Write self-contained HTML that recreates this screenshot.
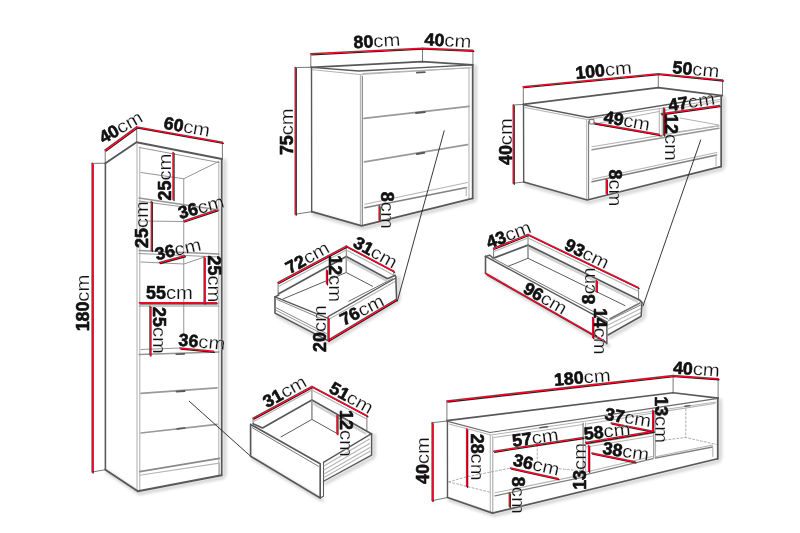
<!DOCTYPE html>
<html><head><meta charset="utf-8"><title>Dimensions</title>
<style>
html,body{margin:0;padding:0;background:#fff;}
body{width:800px;height:533px;overflow:hidden;}
svg{display:block;}
svg path{fill:none;stroke-linecap:round;stroke-linejoin:round;}
svg text{font-family:"Liberation Sans",sans-serif;fill:#111;stroke-linejoin:round;}
svg{will-change:transform;filter:blur(.45px);}
</style></head><body>
<svg width="800" height="533" viewBox="0 0 800 533">
<defs><filter id="soft" x="-5%" y="-5%" width="110%" height="110%"><feGaussianBlur stdDeviation="1.6"/></filter></defs>
<rect width="800" height="533" fill="#fff"/>
<g filter="url(#soft)"><path d="M107.2 471.9 L139.6 493.5 L223.3 477.5" stroke="#cfcfcf" stroke-width="3.2"/><path d="M224.7 160 L224.7 475" stroke="#cfcfcf" stroke-width="3.2"/><path d="M313.5 213.9 L363.5 228.1 L474.5 200.5" stroke="#cfcfcf" stroke-width="3.2"/><path d="M475.4 66 L475.4 198" stroke="#cfcfcf" stroke-width="3.2"/><path d="M525.5 184.2 L589 202.2 L722.6 168.8" stroke="#cfcfcf" stroke-width="3.2"/><path d="M723.7 97 L723.7 166" stroke="#cfcfcf" stroke-width="3.2"/><path d="M449.3 499.7 L494.3 515.3 L719.3 460.95" stroke="#cfcfcf" stroke-width="3.2"/><path d="M720.2 400 L720.2 458" stroke="#cfcfcf" stroke-width="3.2"/><path d="M252.4 458.45 L322 500.2" stroke="#cfcfcf" stroke-width="3.2"/><path d="M325.3 483.45 L373.4 457.4" stroke="#cfcfcf" stroke-width="3.2"/><path d="M374 435 L374 455" stroke="#cfcfcf" stroke-width="3.2"/><path d="M276.8 315.3 L329.9 342.8 L398.05 301.6" stroke="#cfcfcf" stroke-width="3.2"/><path d="M398.7 277 L399 299" stroke="#cfcfcf" stroke-width="3.2"/><path d="M487.3 275.45 L608.7 345.9" stroke="#cfcfcf" stroke-width="3.2"/><path d="M609.8 337.2 L643 318.45" stroke="#cfcfcf" stroke-width="3.2"/><path d="M644.2 303 L644.2 316" stroke="#cfcfcf" stroke-width="3.2"/></g>
<path d="M105.2 150 L105.2 163" stroke="#555" stroke-width="0.8" />
<path d="M136.7 127 L136.7 142" stroke="#555" stroke-width="0.8" />
<path d="M222.4 142.3 L222.4 158.5" stroke="#555" stroke-width="0.8" />
<path d="M92.2 163.4 L105.4 163.2" stroke="#555" stroke-width="0.8" />
<path d="M92.2 472 L105.4 469.7" stroke="#555" stroke-width="0.8" />
<path d="M137 144 L137 490" stroke="#b4b4b4" stroke-width="1.1" />
<path d="M139.8 147 L139.8 489.5" stroke="#b4b4b4" stroke-width="1.1" />
<path d="M218.8 162 L218.8 474" stroke="#b4b4b4" stroke-width="1.1" />
<path d="M139.5 147.5 L219 162.5" stroke="#969696" stroke-width="1" />
<path d="M141 172.5 L183.75 178.75 L218.75 161.5" stroke="#969696" stroke-width="1" />
<path d="M183.75 178.75 L183.75 333" stroke="#969696" stroke-width="1" />
<path d="M139 198 L219 210" stroke="#969696" stroke-width="1.3" />
<path d="M139 201 L183.75 207" stroke="#969696" stroke-width="1" />
<path d="M141 221 L183.75 221.5 L218.75 209.5" stroke="#969696" stroke-width="1" />
<path d="M139 250.5 L219 254" stroke="#969696" stroke-width="1.3" />
<path d="M139 253.5 L219 257" stroke="#969696" stroke-width="1" />
<path d="M141 262 L183.75 264 L203 257.5" stroke="#969696" stroke-width="1" />
<path d="M139 303 L219 303" stroke="#969696" stroke-width="1" />
<path d="M139 306 L219 306" stroke="#969696" stroke-width="1" />
<path d="M141 349.5 L180 348" stroke="#969696" stroke-width="1" />
<path d="M139 354.5 L219 352" stroke="#969696" stroke-width="1.3" />
<path d="M176.2 354.2 L184.4 353.9" stroke="#585858" stroke-width="1.584" />
<path d="M141 393.3 L217 387.8" stroke="#9a9a9a" stroke-width="1.7" />
<path d="M176.5 391.6 L184.6 391" stroke="#585858" stroke-width="1.76" />
<path d="M141 433 L217 424.3" stroke="#9a9a9a" stroke-width="1.7" />
<path d="M177.2 428.9 L184.7 428" stroke="#585858" stroke-width="1.76" />
<path d="M139.7 471.6 L219.4 458.4" stroke="#8a8a8a" stroke-width="1.6" />
<path d="M139.7 475.3 L219.4 463.1" stroke="#b4b4b4" stroke-width="1.1" />
<path d="M219.4 463 L219.4 475.3" stroke="#b4b4b4" stroke-width="1.1" />
<path d="M105.4 163.2 L136.5 142.3 L222 159" stroke="#585858" stroke-width="1.936" />
<path d="M105.4 163.2 L105.4 469.7" stroke="#585858" stroke-width="1.584" />
<path d="M105.4 469.7 L137.8 491.3 L221.5 475.3" stroke="#585858" stroke-width="1.936" />
<path d="M221.7 159 L221.7 475.3" stroke="#585858" stroke-width="1.76" />
<path d="M106.1 151 L137.6 128" stroke="#222" stroke-width="1.3" />
<path d="M105.2 150 L136.7 127" stroke="#e3102c" stroke-width="1.6" />
<path d="M137.6 128 L223.3 143.3" stroke="#222" stroke-width="1.3" />
<path d="M136.7 127 L222.4 142.3" stroke="#e3102c" stroke-width="1.6" />
<path d="M93.1 164.4 L93.1 473" stroke="#222" stroke-width="1.3" />
<path d="M92.2 163.4 L92.2 472" stroke="#e3102c" stroke-width="1.6" />
<path d="M174 153.5 L174 200.5" stroke="#222" stroke-width="1.3" />
<path d="M173.1 152.5 L173.1 199.5" stroke="#e3102c" stroke-width="1.6" />
<path d="M152.3 202.5 L152.3 251.5" stroke="#222" stroke-width="1.3" />
<path d="M151.4 201.5 L151.4 250.5" stroke="#e3102c" stroke-width="1.6" />
<path d="M184.65 222 L217.9 210.8" stroke="#222" stroke-width="1.3" />
<path d="M183.75 221 L217 209.8" stroke="#e3102c" stroke-width="1.6" />
<path d="M160.4 263.5 L185.4 256.75" stroke="#222" stroke-width="1.3" />
<path d="M159.5 262.5 L184.5 255.75" stroke="#e3102c" stroke-width="1.6" />
<path d="M205.1 258 L205.1 304" stroke="#222" stroke-width="1.3" />
<path d="M204.2 257 L204.2 303" stroke="#e3102c" stroke-width="1.6" />
<path d="M140.3 303.8 L217.2 303.8" stroke="#222" stroke-width="1.3" />
<path d="M139.4 302.8 L216.3 302.8" stroke="#e3102c" stroke-width="1.6" />
<path d="M150.9 307.3 L150.9 356" stroke="#222" stroke-width="1.3" />
<path d="M150 306.3 L150 355" stroke="#e3102c" stroke-width="1.6" />
<path d="M180.9 349 L214.4 352.3" stroke="#222" stroke-width="1.3" />
<path d="M180 348 L213.5 351.3" stroke="#e3102c" stroke-width="1.6" />
<g transform="translate(120.6 127) rotate(-30)"><text x="-23.40" y="6.25" font-size="17.5" font-weight="700" stroke="#111" stroke-width="0.6" textLength="19.80" lengthAdjust="spacingAndGlyphs">40</text><text x="-3.60" y="6.25" font-size="18.025" stroke="#fff" stroke-width="0.2" textLength="27.00" lengthAdjust="spacingAndGlyphs">cm</text></g>
<g transform="translate(187 126.5) rotate(10)"><text x="-23.40" y="6.25" font-size="17.5" font-weight="700" stroke="#111" stroke-width="0.6" textLength="19.80" lengthAdjust="spacingAndGlyphs">60</text><text x="-3.60" y="6.25" font-size="18.025" stroke="#fff" stroke-width="0.2" textLength="27.00" lengthAdjust="spacingAndGlyphs">cm</text></g>
<g transform="translate(82.5 303) rotate(-90)"><text x="-28.35" y="6.25" font-size="17.5" font-weight="700" stroke="#111" stroke-width="0.6" textLength="29.70" lengthAdjust="spacingAndGlyphs">180</text><text x="1.35" y="6.25" font-size="18.025" stroke="#fff" stroke-width="0.2" textLength="27.00" lengthAdjust="spacingAndGlyphs">cm</text></g>
<g transform="translate(164.5 177) rotate(-90)"><text x="-23.40" y="6.25" font-size="17.5" font-weight="700" stroke="#111" stroke-width="0.6" textLength="19.80" lengthAdjust="spacingAndGlyphs">25</text><text x="-3.60" y="6.25" font-size="18.025" stroke="#fff" stroke-width="0.2" textLength="27.00" lengthAdjust="spacingAndGlyphs">cm</text></g>
<g transform="translate(142.2 224.5) rotate(-90)"><text x="-23.40" y="6.25" font-size="17.5" font-weight="700" stroke="#111" stroke-width="0.6" textLength="19.80" lengthAdjust="spacingAndGlyphs">25</text><text x="-3.60" y="6.25" font-size="18.025" stroke="#fff" stroke-width="0.2" textLength="27.00" lengthAdjust="spacingAndGlyphs">cm</text></g>
<g transform="translate(201 207) rotate(-15)"><text x="-23.40" y="6.25" font-size="17.5" font-weight="700" stroke="#111" stroke-width="0.6" textLength="19.80" lengthAdjust="spacingAndGlyphs">36</text><text x="-3.60" y="6.25" font-size="18.025" stroke="#fff" stroke-width="0.2" textLength="27.00" lengthAdjust="spacingAndGlyphs">cm</text></g>
<g transform="translate(178 249) rotate(-12.5)"><text x="-23.40" y="6.25" font-size="17.5" font-weight="700" stroke="#111" stroke-width="0.6" textLength="19.80" lengthAdjust="spacingAndGlyphs">36</text><text x="-3.60" y="6.25" font-size="18.025" stroke="#fff" stroke-width="0.2" textLength="27.00" lengthAdjust="spacingAndGlyphs">cm</text></g>
<g transform="translate(214 279) rotate(90)"><text x="-23.40" y="6.25" font-size="17.5" font-weight="700" stroke="#111" stroke-width="0.6" textLength="19.80" lengthAdjust="spacingAndGlyphs">25</text><text x="-3.60" y="6.25" font-size="18.025" stroke="#fff" stroke-width="0.2" textLength="27.00" lengthAdjust="spacingAndGlyphs">cm</text></g>
<g transform="translate(169.5 293.2) rotate(0)"><text x="-23.40" y="6.25" font-size="17.5" font-weight="700" stroke="#111" stroke-width="0.6" textLength="19.80" lengthAdjust="spacingAndGlyphs">55</text><text x="-3.60" y="6.25" font-size="18.025" stroke="#fff" stroke-width="0.2" textLength="27.00" lengthAdjust="spacingAndGlyphs">cm</text></g>
<g transform="translate(159.3 330.5) rotate(90)"><text x="-23.40" y="6.25" font-size="17.5" font-weight="700" stroke="#111" stroke-width="0.6" textLength="19.80" lengthAdjust="spacingAndGlyphs">25</text><text x="-3.60" y="6.25" font-size="18.025" stroke="#fff" stroke-width="0.2" textLength="27.00" lengthAdjust="spacingAndGlyphs">cm</text></g>
<g transform="translate(202 341.5) rotate(5.5)"><text x="-23.40" y="6.25" font-size="17.5" font-weight="700" stroke="#111" stroke-width="0.6" textLength="19.80" lengthAdjust="spacingAndGlyphs">36</text><text x="-3.60" y="6.25" font-size="18.025" stroke="#fff" stroke-width="0.2" textLength="27.00" lengthAdjust="spacingAndGlyphs">cm</text></g>
<path d="M189.25 401.25 L250.6 456.25" stroke="#222" stroke-width="0.9" />
<path d="M253.1 418.1 L253.1 423.5" stroke="#555" stroke-width="0.8" />
<path d="M311.9 386.5 L311.9 419.4" stroke="#555" stroke-width="0.8" />
<path d="M366.9 415.6 L366.9 430.5" stroke="#555" stroke-width="0.8" />
<path d="M253.6 421.5 L311.9 390 L366.5 419" stroke="#b4b4b4" stroke-width="1.1" />
<path d="M313 403.5 L365.5 433.5" stroke="#d0d0d0" stroke-width="2.2" />
<path d="M253.1 423.75 L262.5 428 L311.9 400 L366.9 431.25 L371.6 434" stroke="#585858" stroke-width="1.672" />
<path d="M281 436.9 L311.9 419.4 L337.5 433.75" stroke="#555" stroke-width="0.968" />
<path d="M311.9 419.4 L311.9 400" stroke="#969696" stroke-width="1" />
<path d="M250.6 424.4 L250.6 456.25 L320.2 498 L320.2 463.7 L250.6 424.4" stroke="#585858" stroke-width="1.672" />
<path d="M252.5 427.8 L318.5 466.3" stroke="#777" stroke-width="1" />
<path d="M323.5 462.3 L323.5 496.2 L320.2 498" stroke="#585858" stroke-width="1.056" />
<path d="M323.5 462.3 L371.6 433.6 L371.6 455.2 L323.5 481.25" stroke="#585858" stroke-width="1.408" />
<path d="M324 466 L369.5 439" stroke="#b4b4b4" stroke-width="1.1" />
<path d="M324 470 L369.5 443.5" stroke="#b4b4b4" stroke-width="1.1" />
<path d="M324 474 L370 447.5" stroke="#b4b4b4" stroke-width="1.1" />
<path d="M324 477.5 L370 451.2" stroke="#b4b4b4" stroke-width="1.1" />
<path d="M254 419.1 L312.8 387.5" stroke="#222" stroke-width="1.3" />
<path d="M253.1 418.1 L311.9 386.5" stroke="#e3102c" stroke-width="1.6" />
<path d="M312.8 387.5 L367.9 416.8" stroke="#222" stroke-width="1.3" />
<path d="M311.9 386.5 L367 415.8" stroke="#e3102c" stroke-width="1.6" />
<path d="M337.9 416.5 L337.9 434.75" stroke="#222" stroke-width="1.3" />
<path d="M337 415.5 L337 433.75" stroke="#e3102c" stroke-width="1.6" />
<g transform="translate(284.5 391.4) rotate(-29)"><text x="-23.40" y="6.25" font-size="17.5" font-weight="700" stroke="#111" stroke-width="0.6" textLength="19.80" lengthAdjust="spacingAndGlyphs">31</text><text x="-3.60" y="6.25" font-size="18.025" stroke="#fff" stroke-width="0.2" textLength="27.00" lengthAdjust="spacingAndGlyphs">cm</text></g>
<g transform="translate(351.5 397.5) rotate(29)"><text x="-23.40" y="6.25" font-size="17.5" font-weight="700" stroke="#111" stroke-width="0.6" textLength="19.80" lengthAdjust="spacingAndGlyphs">51</text><text x="-3.60" y="6.25" font-size="18.025" stroke="#fff" stroke-width="0.2" textLength="27.00" lengthAdjust="spacingAndGlyphs">cm</text></g>
<g transform="translate(346 433.5) rotate(90)"><text x="-23.40" y="6.25" font-size="17.5" font-weight="700" stroke="#111" stroke-width="0.6" textLength="19.80" lengthAdjust="spacingAndGlyphs">12</text><text x="-3.60" y="6.25" font-size="18.025" stroke="#fff" stroke-width="0.2" textLength="27.00" lengthAdjust="spacingAndGlyphs">cm</text></g>
<path d="M310.8 54 L310.8 67" stroke="#555" stroke-width="0.8" />
<path d="M422.5 48.3 L422.5 61.7" stroke="#555" stroke-width="0.8" />
<path d="M472.9 50.5 L472.9 65" stroke="#555" stroke-width="0.8" />
<path d="M295.3 67.5 L311.3 67.3" stroke="#555" stroke-width="0.8" />
<path d="M295.3 214.2 L311.7 211.7" stroke="#555" stroke-width="0.8" />
<path d="M312.5 69.8 L360 74.5 L471 67.8" stroke="#b4b4b4" stroke-width="1.1" />
<path d="M360.4 74.5 L360.4 225" stroke="#b4b4b4" stroke-width="1.1" />
<path d="M469 68.5 L469 198.5" stroke="#b4b4b4" stroke-width="1.1" />
<path d="M362.3 76 L362.3 225.5" stroke="#777" stroke-width="1.056" />
<path d="M363 73.6 L469 67.7" stroke="#b4b4b4" stroke-width="1.1" />
<path d="M364 118.4 L469 106.4" stroke="#9a9a9a" stroke-width="1.7" />
<path d="M364.5 161.8 L467.5 144.6" stroke="#9a9a9a" stroke-width="1.7" />
<path d="M364.8 204.3 L467.5 182.5" stroke="#b4b4b4" stroke-width="1.1" />
<path d="M364.8 207.7 L466.7 187.6" stroke="#808080" stroke-width="1.5" />
<path d="M466.2 187.6 L466.2 195.5" stroke="#b4b4b4" stroke-width="1.1" />
<path d="M416.9 72.6 L424.8 72.2" stroke="#585858" stroke-width="1.76" />
<path d="M416 113 L424.8 112" stroke="#585858" stroke-width="1.936" />
<path d="M416.8 154 L424.2 152.8" stroke="#585858" stroke-width="1.936" />
<path d="M311.3 67.3 L422.5 61.7 L472.7 64.8" stroke="#585858" stroke-width="1.76" />
<path d="M311.3 67.3 L359 71 L472.7 64.8" stroke="#585858" stroke-width="1.32" />
<path d="M311.5 67.3 L311.7 211.7" stroke="#585858" stroke-width="1.408" />
<path d="M311.7 211.7 L361.7 225.9 L472.7 198.3" stroke="#585858" stroke-width="1.76" />
<path d="M472.7 64.8 L472.7 198.3" stroke="#585858" stroke-width="1.76" />
<path d="M311.7 54.8 L423.4 49.2" stroke="#222" stroke-width="1.3" />
<path d="M310.8 53.8 L422.5 48.2" stroke="#e3102c" stroke-width="1.6" />
<path d="M423.4 49.2 L473.8 51.4" stroke="#222" stroke-width="1.3" />
<path d="M422.5 48.2 L472.9 50.4" stroke="#e3102c" stroke-width="1.6" />
<path d="M296.2 68.5 L296.2 215.2" stroke="#222" stroke-width="1.3" />
<path d="M295.3 67.5 L295.3 214.2" stroke="#e3102c" stroke-width="1.6" />
<path d="M380.1 206.8 L380.1 221.3" stroke="#222" stroke-width="1.3" />
<path d="M379.2 205.8 L379.2 220.3" stroke="#e3102c" stroke-width="1.6" />
<g transform="translate(376.8 40.7) rotate(-3)"><text x="-23.40" y="6.25" font-size="17.5" font-weight="700" stroke="#111" stroke-width="0.6" textLength="19.80" lengthAdjust="spacingAndGlyphs">80</text><text x="-3.60" y="6.25" font-size="18.025" stroke="#fff" stroke-width="0.2" textLength="27.00" lengthAdjust="spacingAndGlyphs">cm</text></g>
<g transform="translate(448 40.2) rotate(3)"><text x="-23.40" y="6.25" font-size="17.5" font-weight="700" stroke="#111" stroke-width="0.6" textLength="19.80" lengthAdjust="spacingAndGlyphs">40</text><text x="-3.60" y="6.25" font-size="18.025" stroke="#fff" stroke-width="0.2" textLength="27.00" lengthAdjust="spacingAndGlyphs">cm</text></g>
<g transform="translate(287.2 131.7) rotate(-90)"><text x="-23.40" y="6.25" font-size="17.5" font-weight="700" stroke="#111" stroke-width="0.6" textLength="19.80" lengthAdjust="spacingAndGlyphs">75</text><text x="-3.60" y="6.25" font-size="18.025" stroke="#fff" stroke-width="0.2" textLength="27.00" lengthAdjust="spacingAndGlyphs">cm</text></g>
<g transform="translate(387.6 210.3) rotate(90)"><text x="-18.45" y="6.25" font-size="17.5" font-weight="700" stroke="#111" stroke-width="0.6" textLength="9.90" lengthAdjust="spacingAndGlyphs">8</text><text x="-8.55" y="6.25" font-size="18.025" stroke="#fff" stroke-width="0.2" textLength="27.00" lengthAdjust="spacingAndGlyphs">cm</text></g>
<path d="M444.2 130.8 L397.4 301" stroke="#222" stroke-width="0.9" />
<path d="M278.1 282.5 L278.1 295" stroke="#555" stroke-width="0.8" />
<path d="M346.25 246 L346.25 272.5" stroke="#555" stroke-width="0.8" />
<path d="M393.75 271.25 L393.75 276.25" stroke="#555" stroke-width="0.8" />
<path d="M278.6 286.5 L346.25 250 L393.5 275" stroke="#b4b4b4" stroke-width="1.1" />
<path d="M347 259.5 L386 280.5" stroke="#d0d0d0" stroke-width="2.2" />
<path d="M278.75 293.75 L346.25 256.5 L387.5 278.75 L395.3 275.3" stroke="#585858" stroke-width="1.672" />
<path d="M283 299 L346.25 272.5 L372.5 286.25" stroke="#555" stroke-width="0.968" />
<path d="M346.25 272.5 L346.25 256.5" stroke="#969696" stroke-width="1" />
<path d="M275 296.9 L275 313.1 L328.1 340.6" stroke="#585858" stroke-width="1.584" />
<path d="M275 296.9 L278.75 295" stroke="#585858" stroke-width="1.408" />
<path d="M275 296.9 L328.1 318.3" stroke="#585858" stroke-width="1.408" />
<path d="M277 299.5 L326 320.5" stroke="#888" stroke-width="1" />
<path d="M276.5 308 L326.5 333.5" stroke="#888" stroke-width="1" />
<path d="M276.5 310.5 L326.5 336" stroke="#999" stroke-width="1" />
<path d="M328.1 316.6 L395.3 278.3" stroke="#585858" stroke-width="1.232" />
<path d="M329 319.3 L395 281.5" stroke="#b4b4b4" stroke-width="1.1" />
<path d="M348.75 301.25 L392.5 278.75" stroke="#666" stroke-width="0.968" />
<path d="M395.8 276.5 L396.6 299.4" stroke="#585858" stroke-width="1.584" />
<path d="M279 283.5 L347.15 247.1" stroke="#222" stroke-width="1.3" />
<path d="M278.1 282.5 L346.25 246.1" stroke="#e3102c" stroke-width="1.6" />
<path d="M347.15 247.1 L394.65 272.25" stroke="#222" stroke-width="1.3" />
<path d="M346.25 246.1 L393.75 271.25" stroke="#e3102c" stroke-width="1.6" />
<path d="M329 341.2 L397.15 300.4" stroke="#222" stroke-width="1.3" />
<path d="M328.1 340.2 L396.25 299.4" stroke="#e3102c" stroke-width="1.6" />
<path d="M329 318.8 L329 341.2" stroke="#222" stroke-width="1.3" />
<path d="M328.1 317.8 L328.1 340.2" stroke="#e3102c" stroke-width="1.6" />
<path d="M327.5 271 L327.5 284.75" stroke="#222" stroke-width="1.3" />
<path d="M326.6 270 L326.6 283.75" stroke="#e3102c" stroke-width="1.6" />
<g transform="translate(307.3 257.4) rotate(-29)"><text x="-23.40" y="6.25" font-size="17.5" font-weight="700" stroke="#111" stroke-width="0.6" textLength="19.80" lengthAdjust="spacingAndGlyphs">72</text><text x="-3.60" y="6.25" font-size="18.025" stroke="#fff" stroke-width="0.2" textLength="27.00" lengthAdjust="spacingAndGlyphs">cm</text></g>
<g transform="translate(375.5 252) rotate(29)"><text x="-23.40" y="6.25" font-size="17.5" font-weight="700" stroke="#111" stroke-width="0.6" textLength="19.80" lengthAdjust="spacingAndGlyphs">31</text><text x="-3.60" y="6.25" font-size="18.025" stroke="#fff" stroke-width="0.2" textLength="27.00" lengthAdjust="spacingAndGlyphs">cm</text></g>
<g transform="translate(361.8 309.8) rotate(-27)"><text x="-23.40" y="6.25" font-size="17.5" font-weight="700" stroke="#111" stroke-width="0.6" textLength="19.80" lengthAdjust="spacingAndGlyphs">76</text><text x="-3.60" y="6.25" font-size="18.025" stroke="#fff" stroke-width="0.2" textLength="27.00" lengthAdjust="spacingAndGlyphs">cm</text></g>
<g transform="translate(319.5 328.5) rotate(-90)"><text x="-23.40" y="6.25" font-size="17.5" font-weight="700" stroke="#111" stroke-width="0.6" textLength="19.80" lengthAdjust="spacingAndGlyphs">20</text><text x="-3.60" y="6.25" font-size="18.025" stroke="#fff" stroke-width="0.2" textLength="27.00" lengthAdjust="spacingAndGlyphs">cm</text></g>
<g transform="translate(335.5 278.7) rotate(90)"><text x="-23.40" y="6.25" font-size="17.5" font-weight="700" stroke="#111" stroke-width="0.6" textLength="19.80" lengthAdjust="spacingAndGlyphs">12</text><text x="-3.60" y="6.25" font-size="18.025" stroke="#fff" stroke-width="0.2" textLength="27.00" lengthAdjust="spacingAndGlyphs">cm</text></g>
<path d="M523.3 86.7 L523.3 104" stroke="#555" stroke-width="0.8" />
<path d="M658.3 73.7 L658.3 87.5" stroke="#555" stroke-width="0.8" />
<path d="M722.5 80 L722.5 95.5" stroke="#555" stroke-width="0.8" />
<path d="M513.3 105 L523.3 104.4" stroke="#555" stroke-width="0.8" />
<path d="M513.3 183.3 L523.7 182" stroke="#555" stroke-width="0.8" />
<path d="M525 107.5 L587 119.5 L720 99.5" stroke="#b4b4b4" stroke-width="1.1" />
<path d="M586.7 119.5 L586.7 199" stroke="#b4b4b4" stroke-width="1.1" />
<path d="M588.6 121 L588.6 199.5" stroke="#777" stroke-width="1.056" />
<path d="M589.6 119.6 L594 119.6 L594 124 L589.6 124 L589.6 119.6" stroke="#666" stroke-width="0.9" fill="#9c9c9c"/>
<path d="M592 124.5 L659 111.5" stroke="#b4b4b4" stroke-width="1.1" />
<path d="M664 110.5 L719.5 101.5" stroke="#b4b4b4" stroke-width="1.1" />
<path d="M592 146.8 L719 125.6" stroke="#b4b4b4" stroke-width="1.1" />
<path d="M592 149.8 L719 128.2" stroke="#969696" stroke-width="1.4" />
<path d="M594.2 123.8 L658.5 135" stroke="#969696" stroke-width="1" />
<path d="M680 118 L718.75 125" stroke="#b4b4b4" stroke-width="1.1" />
<path d="M676 132 L719 126" stroke="#b4b4b4" stroke-width="1.1" />
<path d="M659.3 108.5 L659.3 135.5" stroke="#b4b4b4" stroke-width="1.1" />
<path d="M662.2 108.5 L662.2 135.5" stroke="#b4b4b4" stroke-width="1.1" />
<path d="M659.5 136 L662 136" stroke="#777" stroke-width="1.408" />
<path d="M592 179.2 L716.7 152.5" stroke="#b4b4b4" stroke-width="1.1" />
<path d="M592 181.8 L716.7 155" stroke="#808080" stroke-width="1.4" />
<path d="M716 155 L716 165.5" stroke="#b4b4b4" stroke-width="1.1" />
<path d="M523.3 104.3 L658.3 87.6 L722.3 95.6" stroke="#585858" stroke-width="1.76" />
<path d="M523.3 104.8 L588.3 117.5 L722.3 95.6" stroke="#585858" stroke-width="1.32" />
<path d="M523.5 104.3 L523.7 182" stroke="#585858" stroke-width="1.408" />
<path d="M523.7 182 L587.2 200 L720.8 166.6" stroke="#585858" stroke-width="1.76" />
<path d="M721.2 95.6 L721.2 166.6" stroke="#585858" stroke-width="1.76" />
<path d="M524.2 87.7 L659.2 74.7" stroke="#222" stroke-width="1.3" />
<path d="M523.3 86.7 L658.3 73.7" stroke="#e3102c" stroke-width="1.6" />
<path d="M659.2 74.7 L723.4 81" stroke="#222" stroke-width="1.3" />
<path d="M658.3 73.7 L722.5 80" stroke="#e3102c" stroke-width="1.6" />
<path d="M514.2 106 L514.2 184.3" stroke="#222" stroke-width="1.3" />
<path d="M513.3 105 L513.3 183.3" stroke="#e3102c" stroke-width="1.6" />
<path d="M595.1 124 L659.65 135.4" stroke="#222" stroke-width="1.3" />
<path d="M594.2 123 L658.75 134.4" stroke="#e3102c" stroke-width="1.6" />
<path d="M662.15 114.75 L720.3 106.6" stroke="#222" stroke-width="1.3" />
<path d="M661.25 113.75 L719.4 105.6" stroke="#e3102c" stroke-width="1.6" />
<path d="M664.65 109 L664.65 136" stroke="#222" stroke-width="1.3" />
<path d="M663.75 108 L663.75 135" stroke="#e3102c" stroke-width="1.6" />
<path d="M607.2 180.2 L607.2 194.3" stroke="#222" stroke-width="1.3" />
<path d="M606.3 179.2 L606.3 193.3" stroke="#e3102c" stroke-width="1.6" />
<g transform="translate(603.5 70) rotate(-5.5)"><text x="-28.35" y="6.25" font-size="17.5" font-weight="700" stroke="#111" stroke-width="0.6" textLength="29.70" lengthAdjust="spacingAndGlyphs">100</text><text x="1.35" y="6.25" font-size="18.025" stroke="#fff" stroke-width="0.2" textLength="27.00" lengthAdjust="spacingAndGlyphs">cm</text></g>
<g transform="translate(696 69) rotate(5.5)"><text x="-23.40" y="6.25" font-size="17.5" font-weight="700" stroke="#111" stroke-width="0.6" textLength="19.80" lengthAdjust="spacingAndGlyphs">50</text><text x="-3.60" y="6.25" font-size="18.025" stroke="#fff" stroke-width="0.2" textLength="27.00" lengthAdjust="spacingAndGlyphs">cm</text></g>
<g transform="translate(505.3 141.6) rotate(-90)"><text x="-23.40" y="6.25" font-size="17.5" font-weight="700" stroke="#111" stroke-width="0.6" textLength="19.80" lengthAdjust="spacingAndGlyphs">40</text><text x="-3.60" y="6.25" font-size="18.025" stroke="#fff" stroke-width="0.2" textLength="27.00" lengthAdjust="spacingAndGlyphs">cm</text></g>
<g transform="translate(627 120.5) rotate(10)"><text x="-23.40" y="6.25" font-size="17.5" font-weight="700" stroke="#111" stroke-width="0.6" textLength="19.80" lengthAdjust="spacingAndGlyphs">49</text><text x="-3.60" y="6.25" font-size="18.025" stroke="#fff" stroke-width="0.2" textLength="27.00" lengthAdjust="spacingAndGlyphs">cm</text></g>
<g transform="translate(691.5 101.5) rotate(-8.5)"><text x="-23.40" y="6.25" font-size="17.5" font-weight="700" stroke="#111" stroke-width="0.6" textLength="19.80" lengthAdjust="spacingAndGlyphs">47</text><text x="-3.60" y="6.25" font-size="18.025" stroke="#fff" stroke-width="0.2" textLength="27.00" lengthAdjust="spacingAndGlyphs">cm</text></g>
<g transform="translate(671.5 137.5) rotate(90)"><text x="-23.40" y="6.25" font-size="17.5" font-weight="700" stroke="#111" stroke-width="0.6" textLength="19.80" lengthAdjust="spacingAndGlyphs">12</text><text x="-3.60" y="6.25" font-size="18.025" stroke="#fff" stroke-width="0.2" textLength="27.00" lengthAdjust="spacingAndGlyphs">cm</text></g>
<g transform="translate(615.2 188) rotate(90)"><text x="-18.45" y="6.25" font-size="17.5" font-weight="700" stroke="#111" stroke-width="0.6" textLength="9.90" lengthAdjust="spacingAndGlyphs">8</text><text x="-8.55" y="6.25" font-size="18.025" stroke="#fff" stroke-width="0.2" textLength="27.00" lengthAdjust="spacingAndGlyphs">cm</text></g>
<path d="M700.7 140 L643 306" stroke="#222" stroke-width="0.9" />
<path d="M493.6 248.25 L493.6 258.25" stroke="#555" stroke-width="0.8" />
<path d="M528 234.5 L528 258" stroke="#555" stroke-width="0.8" />
<path d="M638.6 287.5 L638.6 300" stroke="#555" stroke-width="0.8" />
<path d="M494 251.5 L528 238 L638 291" stroke="#b4b4b4" stroke-width="1.1" />
<path d="M529 248.3 L637 301.5" stroke="#d0d0d0" stroke-width="2.2" />
<path d="M494.9 257.6 L528 245.1 L640 300.3 L641.9 302.5" stroke="#585858" stroke-width="1.76" />
<path d="M508 266.4 L528 258.25 L625 305.6" stroke="#555" stroke-width="0.968" />
<path d="M528 258 L528 245.1" stroke="#969696" stroke-width="1" />
<path d="M485.5 256.4 L485.5 273.25" stroke="#585858" stroke-width="1.584" />
<path d="M485.5 256.4 L489.9 255.3 L493.6 258.6" stroke="#585858" stroke-width="1.408" />
<path d="M485.5 256.4 L606.9 321.9" stroke="#585858" stroke-width="1.408" />
<path d="M493.6 258.6 L608 319.3" stroke="#777" stroke-width="1" />
<path d="M606.9 321.9 L606.9 343.7 L604 340.8" stroke="#585858" stroke-width="1.408" />
<path d="M487 275.5 L604 342" stroke="#999" stroke-width="1" />
<path d="M610 318.75 L640 303" stroke="#777" stroke-width="1.584" />
<path d="M608 321 L641.5 304.6" stroke="#777" stroke-width="0.88" />
<path d="M608 325 L641 308.5" stroke="#b4b4b4" stroke-width="1.1" />
<path d="M608 329 L641 312.5" stroke="#b4b4b4" stroke-width="1.1" />
<path d="M608 335 L641.2 316.25 L641.9 302.5" stroke="#585858" stroke-width="1.496" />
<path d="M494.5 249.25 L528.9 235.5" stroke="#222" stroke-width="1.3" />
<path d="M493.6 248.25 L528 234.5" stroke="#e3102c" stroke-width="1.6" />
<path d="M528.9 235.5 L639 288.5" stroke="#222" stroke-width="1.3" />
<path d="M528 234.5 L638.1 287.5" stroke="#e3102c" stroke-width="1.6" />
<path d="M486.4 274.25 L604.65 341.6" stroke="#222" stroke-width="1.3" />
<path d="M485.5 273.25 L603.75 340.6" stroke="#e3102c" stroke-width="1.6" />
<path d="M593.65 318.5 L593.65 338.5" stroke="#222" stroke-width="1.3" />
<path d="M592.75 317.5 L592.75 337.5" stroke="#e3102c" stroke-width="1.6" />
<path d="M597.15 281.6 L597.15 292.25" stroke="#222" stroke-width="1.3" />
<path d="M596.25 280.6 L596.25 291.25" stroke="#e3102c" stroke-width="1.6" />
<g transform="translate(508.5 234.5) rotate(-21)"><text x="-23.40" y="6.25" font-size="17.5" font-weight="700" stroke="#111" stroke-width="0.6" textLength="19.80" lengthAdjust="spacingAndGlyphs">43</text><text x="-3.60" y="6.25" font-size="18.025" stroke="#fff" stroke-width="0.2" textLength="27.00" lengthAdjust="spacingAndGlyphs">cm</text></g>
<g transform="translate(587 253.5) rotate(26)"><text x="-23.40" y="6.25" font-size="17.5" font-weight="700" stroke="#111" stroke-width="0.6" textLength="19.80" lengthAdjust="spacingAndGlyphs">93</text><text x="-3.60" y="6.25" font-size="18.025" stroke="#fff" stroke-width="0.2" textLength="27.00" lengthAdjust="spacingAndGlyphs">cm</text></g>
<g transform="translate(545.4 298) rotate(29.5)"><text x="-23.40" y="6.25" font-size="17.5" font-weight="700" stroke="#111" stroke-width="0.6" textLength="19.80" lengthAdjust="spacingAndGlyphs">96</text><text x="-3.60" y="6.25" font-size="18.025" stroke="#fff" stroke-width="0.2" textLength="27.00" lengthAdjust="spacingAndGlyphs">cm</text></g>
<g transform="translate(588.7 285.8) rotate(-90)"><text x="-18.45" y="6.25" font-size="17.5" font-weight="700" stroke="#111" stroke-width="0.6" textLength="9.90" lengthAdjust="spacingAndGlyphs">8</text><text x="-8.55" y="6.25" font-size="18.025" stroke="#fff" stroke-width="0.2" textLength="27.00" lengthAdjust="spacingAndGlyphs">cm</text></g>
<g transform="translate(600.5 331.3) rotate(90)"><text x="-23.40" y="6.25" font-size="17.5" font-weight="700" stroke="#111" stroke-width="0.6" textLength="19.80" lengthAdjust="spacingAndGlyphs">14</text><text x="-3.60" y="6.25" font-size="18.025" stroke="#fff" stroke-width="0.2" textLength="27.00" lengthAdjust="spacingAndGlyphs">cm</text></g>
<path d="M446.9 401 L446.9 420.6" stroke="#555" stroke-width="0.8" />
<path d="M673.1 375.6 L673.1 392.75" stroke="#555" stroke-width="0.8" />
<path d="M718.1 378.75 L718.1 398" stroke="#555" stroke-width="0.8" />
<path d="M431.9 422.75 L446.9 421" stroke="#555" stroke-width="0.8" />
<path d="M432.5 500.6 L447.5 497.5" stroke="#555" stroke-width="0.8" />
<path d="M449 424 L491 435 L716 402" stroke="#b4b4b4" stroke-width="1.1" />
<path d="M490.3 435 L490.3 512" stroke="#b4b4b4" stroke-width="1.1" />
<path d="M492.8 436.5 L492.8 512.5" stroke="#9a9a9a" stroke-width="0.968" />
<path d="M494 437.5 L583 424.5" stroke="#b4b4b4" stroke-width="1.1" />
<path d="M587 424 L653 413" stroke="#b4b4b4" stroke-width="1.1" />
<path d="M656 412.6 L715 403.5" stroke="#b4b4b4" stroke-width="1.1" />
<path d="M583.1 423 L583.1 476" stroke="#777" stroke-width="1.1" />
<path d="M585.6 423 L585.6 475.5" stroke="#b4b4b4" stroke-width="1.1" />
<path d="M653.75 412 L653.75 458" stroke="#888" stroke-width="1.1" />
<path d="M655.5 412 L655.5 457.5" stroke="#b4b4b4" stroke-width="1.1" />
<path d="M540 427.7 L547.5 426.7" stroke="#585858" stroke-width="1.584" />
<path d="M685 406.3 L690 405.6" stroke="#585858" stroke-width="1.408" />
<path d="M586 444.5 L653 433.3" stroke="#b4b4b4" stroke-width="1.1" />
<path d="M586 447 L653 436" stroke="#b4b4b4" stroke-width="1.1" />
<path d="M495 492.8 L583 474.6" stroke="#b4b4b4" stroke-width="1.1" />
<path d="M495 495.8 L583 477.2" stroke="#808080" stroke-width="1.3" />
<path d="M586 472 L653 456.3" stroke="#b4b4b4" stroke-width="1.1" />
<path d="M586 474.6 L653 458.6" stroke="#808080" stroke-width="1.3" />
<path d="M655.5 456.7 L712.5 445" stroke="#b4b4b4" stroke-width="1.1" />
<path d="M655.5 458.2 L712.5 447" stroke="#808080" stroke-width="1.3" />
<path d="M712.8 447 L712.8 456.5" stroke="#b4b4b4" stroke-width="1.1" />
<path d="M537.25 445 L537.25 462" stroke="#999" stroke-width="0.8" stroke-dasharray="2 2"/>
<path d="M448.75 481.9 L466.25 476.9 L511 468" stroke="#999" stroke-width="0.8" stroke-dasharray="2 2"/>
<path d="M559.4 468.75 L583 471" stroke="#999" stroke-width="0.8" stroke-dasharray="2 2"/>
<path d="M448.75 481.9 L491.25 492.5" stroke="#999" stroke-width="0.8" stroke-dasharray="2 2"/>
<path d="M685.8 408.8 L685.8 437.5" stroke="#999" stroke-width="0.8" stroke-dasharray="2 2"/>
<path d="M657 441 L685.6 437.5 L716.25 444.4" stroke="#999" stroke-width="0.8" stroke-dasharray="2 2"/>
<path d="M446.9 420.6 L673.1 392.75 L718.1 398.1" stroke="#585858" stroke-width="1.76" />
<path d="M446.9 421.2 L490 432.5 L718.1 398.3" stroke="#6a6a6a" stroke-width="1.232" />
<path d="M447.4 420.6 L447.5 497.5" stroke="#585858" stroke-width="1.408" />
<path d="M447.5 497.5 L492.5 513.1 L717.5 458.75" stroke="#585858" stroke-width="1.76" />
<path d="M717.8 398.1 L717.8 458.75" stroke="#585858" stroke-width="1.76" />
<path d="M447.8 402 L674 376.6" stroke="#222" stroke-width="1.3" />
<path d="M446.9 401 L673.1 375.6" stroke="#e3102c" stroke-width="1.6" />
<path d="M674 376.6 L719 379.75" stroke="#222" stroke-width="1.3" />
<path d="M673.1 375.6 L718.1 378.75" stroke="#e3102c" stroke-width="1.6" />
<path d="M433.1 423.75 L433.1 501.6" stroke="#222" stroke-width="1.3" />
<path d="M432.2 422.75 L432.2 500.6" stroke="#e3102c" stroke-width="1.6" />
<path d="M467.6 430 L467.6 487.25" stroke="#222" stroke-width="1.3" />
<path d="M466.7 429 L466.7 486.25" stroke="#e3102c" stroke-width="1.6" />
<path d="M494.65 452.25 L584 438.5" stroke="#222" stroke-width="1.3" />
<path d="M493.75 451.25 L583.1 437.5" stroke="#e3102c" stroke-width="1.6" />
<path d="M511.5 469.1 L558.9 479.6" stroke="#222" stroke-width="1.3" />
<path d="M510.6 468.1 L558 478.6" stroke="#e3102c" stroke-width="1.6" />
<path d="M510.3 494 L510.3 507.5" stroke="#222" stroke-width="1.3" />
<path d="M509.4 493 L509.4 506.5" stroke="#e3102c" stroke-width="1.6" />
<path d="M589.6 446.6 L589.6 472.25" stroke="#222" stroke-width="1.3" />
<path d="M588.7 445.6 L588.7 471.25" stroke="#e3102c" stroke-width="1.6" />
<path d="M586.5 443.5 L654 432.25" stroke="#222" stroke-width="1.3" />
<path d="M585.6 442.5 L653.1 431.25" stroke="#e3102c" stroke-width="1.6" />
<path d="M612.15 424.1 L654 432.25" stroke="#222" stroke-width="1.3" />
<path d="M611.25 423.1 L653.1 431.25" stroke="#e3102c" stroke-width="1.6" />
<path d="M592.8 454.1 L635.9 462.9" stroke="#222" stroke-width="1.3" />
<path d="M591.9 453.1 L635 461.9" stroke="#e3102c" stroke-width="1.6" />
<path d="M653.65 411.3 L653.65 432.25" stroke="#222" stroke-width="1.3" />
<path d="M652.75 410.3 L652.75 431.25" stroke="#e3102c" stroke-width="1.6" />
<g transform="translate(582.2 377.2) rotate(-4.5)"><text x="-28.35" y="6.25" font-size="17.5" font-weight="700" stroke="#111" stroke-width="0.6" textLength="29.70" lengthAdjust="spacingAndGlyphs">180</text><text x="1.35" y="6.25" font-size="18.025" stroke="#fff" stroke-width="0.2" textLength="27.00" lengthAdjust="spacingAndGlyphs">cm</text></g>
<g transform="translate(696.4 368.8) rotate(3.8)"><text x="-23.40" y="6.25" font-size="17.5" font-weight="700" stroke="#111" stroke-width="0.6" textLength="19.80" lengthAdjust="spacingAndGlyphs">40</text><text x="-3.60" y="6.25" font-size="18.025" stroke="#fff" stroke-width="0.2" textLength="27.00" lengthAdjust="spacingAndGlyphs">cm</text></g>
<g transform="translate(423.1 460.5) rotate(-90)"><text x="-23.40" y="6.25" font-size="17.5" font-weight="700" stroke="#111" stroke-width="0.6" textLength="19.80" lengthAdjust="spacingAndGlyphs">40</text><text x="-3.60" y="6.25" font-size="18.025" stroke="#fff" stroke-width="0.2" textLength="27.00" lengthAdjust="spacingAndGlyphs">cm</text></g>
<g transform="translate(476.9 457.2) rotate(90)"><text x="-23.40" y="6.25" font-size="17.5" font-weight="700" stroke="#111" stroke-width="0.6" textLength="19.80" lengthAdjust="spacingAndGlyphs">28</text><text x="-3.60" y="6.25" font-size="18.025" stroke="#fff" stroke-width="0.2" textLength="27.00" lengthAdjust="spacingAndGlyphs">cm</text></g>
<g transform="translate(535.3 437.5) rotate(-7.5)"><text x="-23.40" y="6.25" font-size="17.5" font-weight="700" stroke="#111" stroke-width="0.6" textLength="19.80" lengthAdjust="spacingAndGlyphs">57</text><text x="-3.60" y="6.25" font-size="18.025" stroke="#fff" stroke-width="0.2" textLength="27.00" lengthAdjust="spacingAndGlyphs">cm</text></g>
<g transform="translate(536.5 464.5) rotate(13)"><text x="-23.40" y="6.25" font-size="17.5" font-weight="700" stroke="#111" stroke-width="0.6" textLength="19.80" lengthAdjust="spacingAndGlyphs">36</text><text x="-3.60" y="6.25" font-size="18.025" stroke="#fff" stroke-width="0.2" textLength="27.00" lengthAdjust="spacingAndGlyphs">cm</text></g>
<g transform="translate(518.6 495.3) rotate(90)"><text x="-18.45" y="6.25" font-size="17.5" font-weight="700" stroke="#111" stroke-width="0.6" textLength="9.90" lengthAdjust="spacingAndGlyphs">8</text><text x="-8.55" y="6.25" font-size="18.025" stroke="#fff" stroke-width="0.2" textLength="27.00" lengthAdjust="spacingAndGlyphs">cm</text></g>
<g transform="translate(579.7 466.4) rotate(-90)"><text x="-23.40" y="6.25" font-size="17.5" font-weight="700" stroke="#111" stroke-width="0.6" textLength="19.80" lengthAdjust="spacingAndGlyphs">13</text><text x="-3.60" y="6.25" font-size="18.025" stroke="#fff" stroke-width="0.2" textLength="27.00" lengthAdjust="spacingAndGlyphs">cm</text></g>
<g transform="translate(607 431) rotate(-6)"><text x="-23.40" y="6.25" font-size="17.5" font-weight="700" stroke="#111" stroke-width="0.6" textLength="19.80" lengthAdjust="spacingAndGlyphs">58</text><text x="-3.60" y="6.25" font-size="18.025" stroke="#fff" stroke-width="0.2" textLength="27.00" lengthAdjust="spacingAndGlyphs">cm</text></g>
<g transform="translate(628.1 417.2) rotate(9.4)"><text x="-23.40" y="6.25" font-size="17.5" font-weight="700" stroke="#111" stroke-width="0.6" textLength="19.80" lengthAdjust="spacingAndGlyphs">37</text><text x="-3.60" y="6.25" font-size="18.025" stroke="#fff" stroke-width="0.2" textLength="27.00" lengthAdjust="spacingAndGlyphs">cm</text></g>
<g transform="translate(626 451) rotate(8.5)"><text x="-23.40" y="6.25" font-size="17.5" font-weight="700" stroke="#111" stroke-width="0.6" textLength="19.80" lengthAdjust="spacingAndGlyphs">38</text><text x="-3.60" y="6.25" font-size="18.025" stroke="#fff" stroke-width="0.2" textLength="27.00" lengthAdjust="spacingAndGlyphs">cm</text></g>
<g transform="translate(661.25 419.7) rotate(90)"><text x="-23.40" y="6.25" font-size="17.5" font-weight="700" stroke="#111" stroke-width="0.6" textLength="19.80" lengthAdjust="spacingAndGlyphs">13</text><text x="-3.60" y="6.25" font-size="18.025" stroke="#fff" stroke-width="0.2" textLength="27.00" lengthAdjust="spacingAndGlyphs">cm</text></g>
</svg>
</body></html>
